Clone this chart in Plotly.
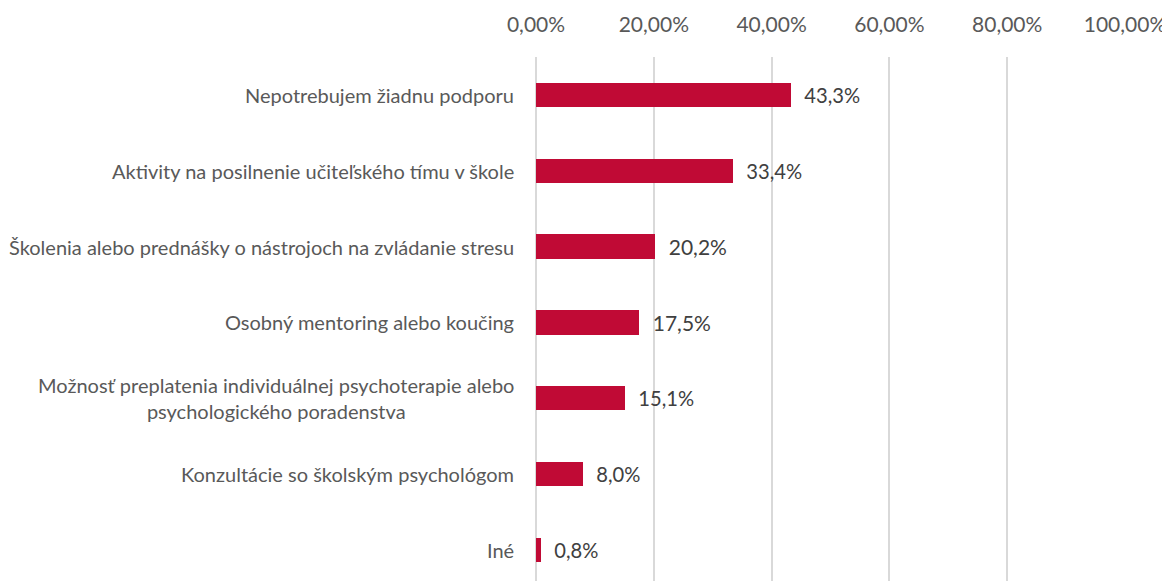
import plotly.graph_objects as go

categories = [
    "Nepotrebujem žiadnu podporu",
    "Aktivity na posilnenie učiteľského tímu v škole",
    "Školenia alebo prednášky o nástrojoch na zvládanie stresu",
    "Osobný mentoring alebo koučing",
    "Možnosť preplatenia individuálnej psychoterapie alebo<br>psychologického poradenstva",
    "Konzultácie so školským psychológom",
    "Iné",
]
values = [0.433, 0.334, 0.202, 0.175, 0.151, 0.080, 0.008]
tick_vals = [0, 0.2, 0.4, 0.6, 0.8, 1.0]

labels = ["\u00a0\u00a0" + f"{v*100:.1f}".replace(".", ",") + "%" for v in values]
FONT = "Lato, 'Open Sans', sans-serif"

fig = go.Figure(go.Bar(
    y=categories, x=values, orientation="h",
    marker=dict(color="#C00A35", line=dict(width=0)),
    width=0.32,
    text=labels, textposition="outside", cliponaxis=False,
    textfont=dict(family=FONT, size=21, color="#404040"),
    hoverinfo="skip",
))

for c in categories:
    fig.add_annotation(
        x=0, xref="paper", y=c, yref="y", text=c, showarrow=False,
        xanchor="right", align="center", xshift=-20,
        font=dict(family=FONT, size=20, color="#595959"),
    )

# the page body adds an 8px offset, so the figure is sized to fit the window
fig.update_layout(
    width=1162, height=573,
    margin=dict(l=528, r=45, t=49, b=0),
    paper_bgcolor="white", plot_bgcolor="white",
    separators=", ",
    showlegend=False,
    bargap=0,
    xaxis=dict(
        side="top", range=[0, 1], tickvals=tick_vals, tickformat=".2%",
        showgrid=True, gridcolor="#D9D9D9", gridwidth=1.5,
        zeroline=True, zerolinecolor="#D9D9D9", zerolinewidth=1.5,
        showline=False, ticks="", automargin=False,
        tickfont=dict(family=FONT, size=21, color="#595959"),
        ticklabelstandoff=20,
    ),
    yaxis=dict(
        type="category", categoryorder="array", categoryarray=categories,
        range=[6.41, -0.5], showticklabels=False, showgrid=False,
        zeroline=False, showline=False, ticks="", automargin=False,
    ),
)

fig.write_html("out.html")
